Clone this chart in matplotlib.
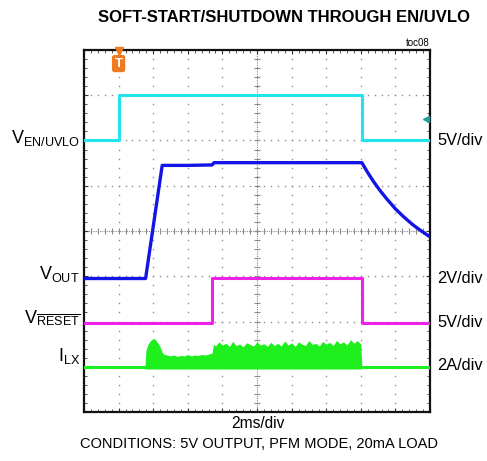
import numpy as np
import matplotlib
matplotlib.use("Agg")
import matplotlib.pyplot as plt

# ---------------- data (screen divisions: x 0..10, y 0..8) ----------------
en_t = [0.0, 1.0, 1.0, 8.03, 8.03, 10.0]
en_y = [6.0, 6.0, 7.0, 7.0, 6.0, 6.0]

vout_t = [0.0, 1.78, 2.26, 3.0, 3.70, 3.76, 8.03, 8.20, 8.38, 8.55, 8.75, 9.00,
          9.23, 9.50, 9.75, 10.0]
vout_y = [2.95, 2.95, 5.45, 5.45, 5.46, 5.51, 5.51, 5.29, 5.08, 4.90, 4.71, 4.49,
          4.32, 4.14, 4.00, 3.87]

rst_t = [0.0, 3.69, 3.69, 8.03, 8.03, 10.0]
rst_y = [1.96, 1.96, 2.97, 2.97, 1.96, 1.96]

ilx_base_t = [0.0, 10.0]
ilx_base_y = [1.0, 1.0]

# upper envelope of the switching-current band
ilx_t = [1.76, 1.79, 1.84, 1.90, 1.96, 2.02, 2.08, 2.14, 2.20, 2.26, 2.32, 2.40,
         2.50, 2.60, 2.70, 2.80, 2.90, 3.00, 3.10, 3.20, 3.30, 3.40, 3.50, 3.60,
         3.70, 3.74, 3.80, 3.90, 4.00, 4.10, 4.20, 4.30, 4.40, 4.50, 4.60, 4.70,
         4.80, 4.90, 5.00, 5.10, 5.20, 5.30, 5.40, 5.50, 5.60, 5.70, 5.80, 5.90,
         6.00, 6.10, 6.20, 6.30, 6.40, 6.50, 6.60, 6.70, 6.80, 6.90, 7.00, 7.10,
         7.20, 7.30, 7.40, 7.50, 7.60, 7.70, 7.80, 7.90, 8.00, 8.03]
ilx_hi = [1.00, 1.36, 1.48, 1.56, 1.60, 1.63, 1.58, 1.52, 1.44, 1.32, 1.27, 1.26,
          1.24, 1.26, 1.23, 1.25, 1.24, 1.27, 1.24, 1.26, 1.25, 1.27, 1.26, 1.28,
          1.30, 1.50, 1.46, 1.55, 1.48, 1.52, 1.45, 1.56, 1.47, 1.50, 1.44, 1.53,
          1.49, 1.46, 1.55, 1.48, 1.51, 1.45, 1.54, 1.47, 1.52, 1.46, 1.57, 1.48,
          1.53, 1.45, 1.55, 1.50, 1.47, 1.58, 1.49, 1.52, 1.46, 1.56, 1.50, 1.54,
          1.47, 1.58, 1.51, 1.55, 1.48, 1.60, 1.52, 1.58, 1.50, 1.00]
ilx_lo = 0.95

left_labels = [r"$\mathregular{V_{EN/UVLO}}$", r"$\mathregular{V_{OUT}}$",
               r"$\mathregular{V_{\overline{RESET}}}$", r"$\mathregular{I_{LX}}$"]
left_label_y = [6.05, 3.05, 2.08, 1.23]
right_labels = ["5V/div", "2V/div", "5V/div", "2A/div"]
right_label_y = [6.0, 2.96, 1.97, 1.02]

title = "SOFT-START/SHUTDOWN THROUGH EN/UVLO"
xlabel = "2ms/div"
conditions = "CONDITIONS: 5V OUTPUT, PFM MODE, 20mA LOAD"

# ---------------- style ----------------
FONT = ["Liberation Sans", "DejaVu Sans"]
plt.rcParams["font.family"] = FONT
plt.rcParams["mathtext.fontset"] = "custom"
plt.rcParams["mathtext.rm"] = "Liberation Sans"
plt.rcParams["mathtext.it"] = "Liberation Sans"
plt.rcParams["mathtext.bf"] = "Liberation Sans:bold"

CYAN = "#22e4ee"
BLUE = "#1414e6"
MAGENTA = "#ee22e6"
GREEN = "#1ef01e"
GRID = "#8a8a8a"

W, H = 487, 461
fig = plt.figure(figsize=(W / 100, H / 100), dpi=100)
L, R, T, B = 84, 430, 50, 412
ax = fig.add_axes([L / W, (H - B) / H, (R - L) / W, (B - T) / H])
ax.set_xlim(0, 10)
ax.set_ylim(0, 8)

# graticule: dotted grid lines with dots every 1/5 division
sub = np.arange(0, 8.001, 0.2)
subx = np.arange(0, 10.001, 0.2)
for k in range(1, 10):
    if k == 5:
        continue
    ax.plot(np.full_like(sub, k), sub, ls="none", marker="s", ms=1.0, mew=0,
            color=GRID, zorder=1)
for k in range(1, 8):
    if k == 4:
        continue
    ax.plot(subx, np.full_like(subx, k), ls="none", marker="s", ms=1.0, mew=0,
            color=GRID, zorder=1)
# center crosshair
ax.plot([5, 5], [0, 8], ls=(0, (1, 1)), lw=0.8, color=GRID, zorder=1)
ax.plot([0, 10], [4, 4], ls=(0, (1, 1)), lw=0.8, color=GRID, zorder=1)
ax.plot(np.full_like(sub, 5), sub, ls="none", marker="_", ms=5, mew=0.8,
        color=GRID, zorder=1)
ax.plot(subx, np.full_like(subx, 4), ls="none", marker="|", ms=5, mew=0.8,
        color=GRID, zorder=1)

# frame ticks
ax.set_xticks(np.arange(0, 10.01, 1))
ax.set_yticks(np.arange(0, 8.01, 1))
ax.set_xticks(subx, minor=True)
ax.set_yticks(sub, minor=True)
ax.tick_params(which="both", direction="in", top=True, right=True,
               labelbottom=False, labelleft=False, color="#333333")
ax.tick_params(which="major", length=3, width=0.8)
ax.tick_params(which="minor", length=2, width=0.6)
for s in ax.spines.values():
    s.set_linewidth(1.6)
    s.set_color("#111111")

# traces
ax.fill_between(ilx_t, ilx_lo, ilx_hi, color=GREEN, lw=0, zorder=3)
ax.plot(ilx_base_t, ilx_base_y, color=GREEN, lw=2.2, zorder=3)
ax.plot(rst_t, rst_y, color=MAGENTA, lw=2.2, zorder=4)
ax.plot(vout_t, vout_y, color=BLUE, lw=2.4, zorder=5)
ax.plot(en_t, en_y, color=CYAN, lw=2.2, zorder=6)

# trigger marker and level arrow
ax.plot([1.0], [7.97], marker="v", ms=6, color="#f07a20", clip_on=False, zorder=7)
ax.text(1.0, 7.7, "T", ha="center", va="center", color="white", fontsize=9.5,
        fontweight="bold",
        bbox=dict(boxstyle="round,pad=0.2", fc="#f07a20", ec="none"), zorder=8)
ax.plot([9.88], [6.47], marker="<", ms=4, color="#1aa0a0", zorder=7)

# channel labels
for lab, y in zip(left_labels, left_label_y):
    ax.text(-0.12, y, lab, ha="right", va="center", fontsize=13, clip_on=False)
for lab, y in zip(right_labels, right_label_y):
    ax.text(10.2, y, lab, ha="left", va="center", fontsize=11.8, clip_on=False)

fig.text((102 + 465) / 2 / W, 1 - 18 / H, title, ha="center", va="center",
         fontsize=12, fontweight="bold")
fig.text(R / W, 1 - 43 / H, "toc08", ha="right", va="center", fontsize=7)
fig.text(258 / W, 1 - 423 / H, xlabel, ha="center", va="center", fontsize=11.2)
fig.text(259 / W, 1 - 444 / H, conditions, ha="center", va="center",
         fontsize=10.5)

fig.savefig("out.png", dpi=100)
